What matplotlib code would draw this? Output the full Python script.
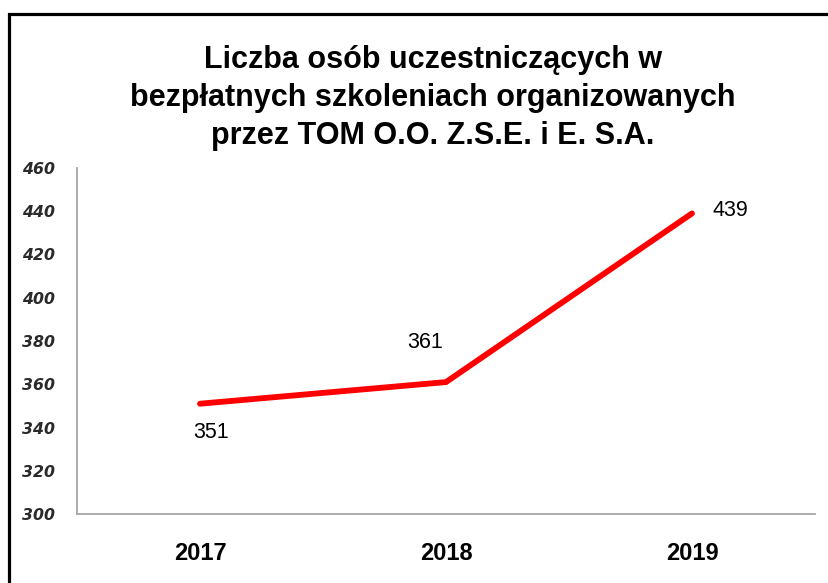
import matplotlib
matplotlib.use("Agg")
import matplotlib.pyplot as plt
from matplotlib.patches import Rectangle

# Data
years = ["2017", "2018", "2019"]
participants = [351, 361, 439]
y_ticks = [300, 320, 340, 360, 380, 400, 420, 440, 460]
label_offsets = [(11, -29), (-21, 40), (38, 3)]  # pixels from point

title = ("Liczba osób uczestniczących w\n"
         "bezpłatnych szkoleniach organizowanych\n"
         "przez TOM O.O. Z.S.E. i E. S.A.")

W, H = 829, 583
fig = plt.figure(figsize=(W / 100, H / 100), dpi=100)

# black frame visible on left and top only
fig.patches.append(Rectangle((9.5 / W, -0.1), 2.0, (H - 13.5) / H + 0.1,
                             transform=fig.transFigure, fill=False,
                             edgecolor="black", linewidth=2.3))

ax = fig.add_axes([77 / W, (H - 514) / H, (815 - 77) / W, (514 - 168) / H])
x = range(len(years))
ax.plot(x, participants, color="#ff0000", linewidth=4.2, solid_capstyle="round",
        solid_joinstyle="miter")

ax.set_xlim(-0.5, len(years) - 0.5)
ax.set_ylim(300, 460)
ax.set_yticks(y_ticks)
ax.set_xticks(list(x))
ax.set_xticklabels(years, fontfamily="Liberation Sans", fontweight="bold", fontsize=17)
ax.set_yticklabels([str(v) for v in y_ticks], fontfamily="DejaVu Sans",
                   fontweight="bold", fontstyle="italic", fontsize=11.3, color="#2a2a2a")
ax.tick_params(axis="y", length=0, pad=16)
ax.tick_params(axis="x", length=0, pad=20)

for s in ["top", "right"]:
    ax.spines[s].set_visible(False)
for s in ["left", "bottom"]:
    ax.spines[s].set_color("#a6a6a6")
    ax.spines[s].set_linewidth(1.3)

for xi, v, (dx, dy) in zip(x, participants, label_offsets):
    ax.annotate(str(v), (xi, v), xytext=(dx, dy), textcoords="offset pixels",
                ha="center", va="center", fontsize=15.5, fontfamily="Liberation Sans",
                color="black")

fig.text(433 / W, 1 - 98 / H, title, ha="center", va="center", fontsize=22,
         fontweight="bold", fontfamily="Liberation Sans", linespacing=1.36)

fig.savefig("out.png", dpi=100)
